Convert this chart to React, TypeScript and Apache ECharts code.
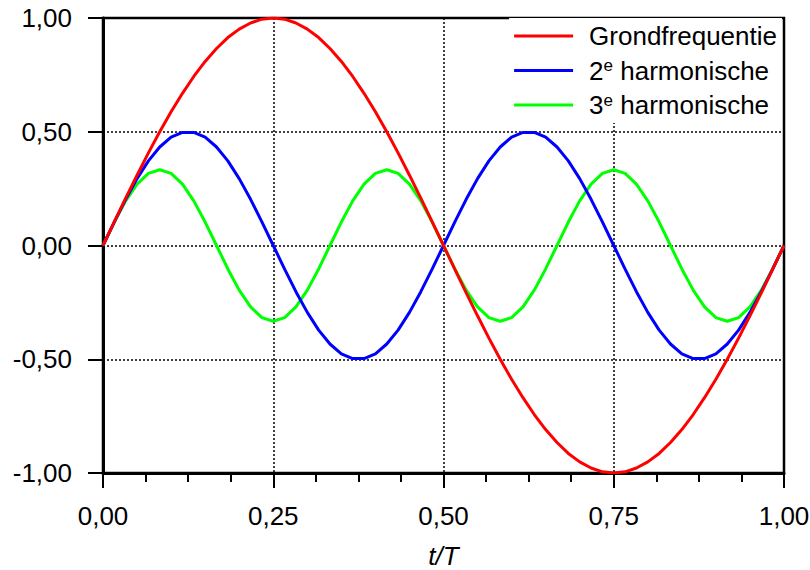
import React, { useEffect, useRef } from "react";
import * as echarts from "echarts";

const T = [0, 0.0167, 0.0333, 0.05, 0.0667, 0.0833, 0.1, 0.1167, 0.1333, 0.15, 0.1667, 0.1833, 0.2, 0.2167, 0.2333, 0.25, 0.2667, 0.2833, 0.3, 0.3167, 0.3333, 0.35, 0.3667, 0.3833, 0.4, 0.4167, 0.4333, 0.45, 0.4667, 0.4833, 0.5, 0.5167, 0.5333, 0.55, 0.5667, 0.5833, 0.6, 0.6167, 0.6333, 0.65, 0.6667, 0.6833, 0.7, 0.7167, 0.7333, 0.75, 0.7667, 0.7833, 0.8, 0.8167, 0.8333, 0.85, 0.8667, 0.8833, 0.9, 0.9167, 0.9333, 0.95, 0.9667, 0.9833, 1];

const GROND = [0, 0.105, 0.208, 0.309, 0.407, 0.5, 0.588, 0.669, 0.743, 0.809, 0.866, 0.914, 0.951, 0.978, 0.995, 1, 0.995, 0.978, 0.951, 0.914, 0.866, 0.809, 0.743, 0.669, 0.588, 0.5, 0.407, 0.309, 0.208, 0.105, 0, -0.105, -0.208, -0.309, -0.407, -0.5, -0.588, -0.669, -0.743, -0.809, -0.866, -0.914, -0.951, -0.978, -0.995, -1, -0.995, -0.978, -0.951, -0.914, -0.866, -0.809, -0.743, -0.669, -0.588, -0.5, -0.407, -0.309, -0.208, -0.105, 0];

const HARM2 = [0, 0.104, 0.203, 0.294, 0.372, 0.433, 0.476, 0.497, 0.497, 0.476, 0.433, 0.372, 0.294, 0.203, 0.104, 0, -0.104, -0.203, -0.294, -0.372, -0.433, -0.476, -0.497, -0.497, -0.476, -0.433, -0.372, -0.294, -0.203, -0.104, 0, 0.104, 0.203, 0.294, 0.372, 0.433, 0.476, 0.497, 0.497, 0.476, 0.433, 0.372, 0.294, 0.203, 0.104, 0, -0.104, -0.203, -0.294, -0.372, -0.433, -0.476, -0.497, -0.497, -0.476, -0.433, -0.372, -0.294, -0.203, -0.104, 0];

const HARM3 = [0, 0.103, 0.196, 0.27, 0.317, 0.333, 0.317, 0.27, 0.196, 0.103, 0, -0.103, -0.196, -0.27, -0.317, -0.333, -0.317, -0.27, -0.196, -0.103, 0, 0.103, 0.196, 0.27, 0.317, 0.333, 0.317, 0.27, 0.196, 0.103, 0, -0.103, -0.196, -0.27, -0.317, -0.333, -0.317, -0.27, -0.196, -0.103, 0, 0.103, 0.196, 0.27, 0.317, 0.333, 0.317, 0.27, 0.196, 0.103, 0, -0.103, -0.196, -0.27, -0.317, -0.333, -0.317, -0.27, -0.196, -0.103, 0];

const NAMES = ["Grondfrequentie", "2e harmonische", "3e harmonische"];
const COLORS = ["#ff0000", "#0000ff", "#00ff00"];

const FONT = "'Liberation Sans', Arial, sans-serif";

const fmt = (v: number) => v.toFixed(2).replace(".", ",");

export default function App() {
  const ref = useRef<HTMLDivElement>(null);
  useEffect(() => {
    if (!ref.current) return;
    const chart = echarts.init(ref.current, undefined, { renderer: "svg" });
    const seriesData = [GROND, HARM2, HARM3];
    chart.setOption({
      animation: false,
      backgroundColor: "#ffffff",
      grid: {
        left: 103,
        right: 26,
        top: 18,
        bottom: 97,
        show: true,
        borderColor: "#000",
        borderWidth: 2.5,
        backgroundColor: "transparent",
        containLabel: false,
        outerBoundsMode: "none",
      },
      legend: {
        data: NAMES.map((n) => ({ name: n, icon: "rect" })),
        orient: "vertical",
        right: 28,
        top: 18,
        padding: [5, 5, 5, 5],
        backgroundColor: "#ffffff",
        itemWidth: 59,
        itemHeight: 3,
        itemGap: 8,
        formatter: (name: string) => {
          if (name === "2e harmonische") return "2{sup|e} harmonische";
          if (name === "3e harmonische") return "3{sup|e} harmonische";
          return name;
        },
        textStyle: {
          fontFamily: FONT,
          fontSize: 26,
          color: "#000",
          lineHeight: 26,
          padding: [0, 0, 0, 11],
          rich: {
            sup: {
              fontFamily: FONT,
              fontSize: 17,
              color: "#000",
              padding: [0, 0, 10, 0],
            },
          },
        },
      },
      xAxis: {
        type: "value",
        min: 0,
        max: 1,
        interval: 0.25,
        name: "t/T",
        nameLocation: "middle",
        nameGap: 70,
        nameTextStyle: {
          fontFamily: FONT,
          fontSize: 26,
          fontStyle: "italic",
          color: "#000",
        },
        axisLine: { onZero: false, lineStyle: { color: "#000", width: 3 } },
        axisTick: { show: true, length: 15, lineStyle: { color: "#000", width: 2 } },
        minorTick: { show: true, splitNumber: 4, length: 9, lineStyle: { color: "#000", width: 2 } },
        splitLine: { show: true, lineStyle: { color: "#000", type: [2, 2], width: 1.5 } },
        axisLabel: {
          fontFamily: FONT,
          fontSize: 26,
          color: "#000",
          margin: 30,
          formatter: fmt,
        },
      },
      yAxis: {
        type: "value",
        min: -1,
        max: 1,
        interval: 0.5,
        axisLine: { show: true, lineStyle: { color: "#000", width: 3 } },
        axisTick: { show: true, length: 15, lineStyle: { color: "#000", width: 2 } },
        splitLine: { show: true, lineStyle: { color: "#000", type: [2, 2], width: 1.5 } },
        axisLabel: {
          fontFamily: FONT,
          fontSize: 26,
          color: "#000",
          margin: 31,
          formatter: fmt,
        },
      },
      series: NAMES.map((n, i) => ({
        name: n,
        type: "line",
        symbol: "none",
        z: 5 - i,
        color: COLORS[i],
        lineStyle: { color: COLORS[i], width: 3 },
        data: T.map((t, k) => [t, seriesData[i][k]]),
      })),
    });
    return () => chart.dispose();
  }, []);
  return <div ref={ref} style={{ width: 810, height: 570, position: "absolute", left: 0, top: 0 }} />;
}
